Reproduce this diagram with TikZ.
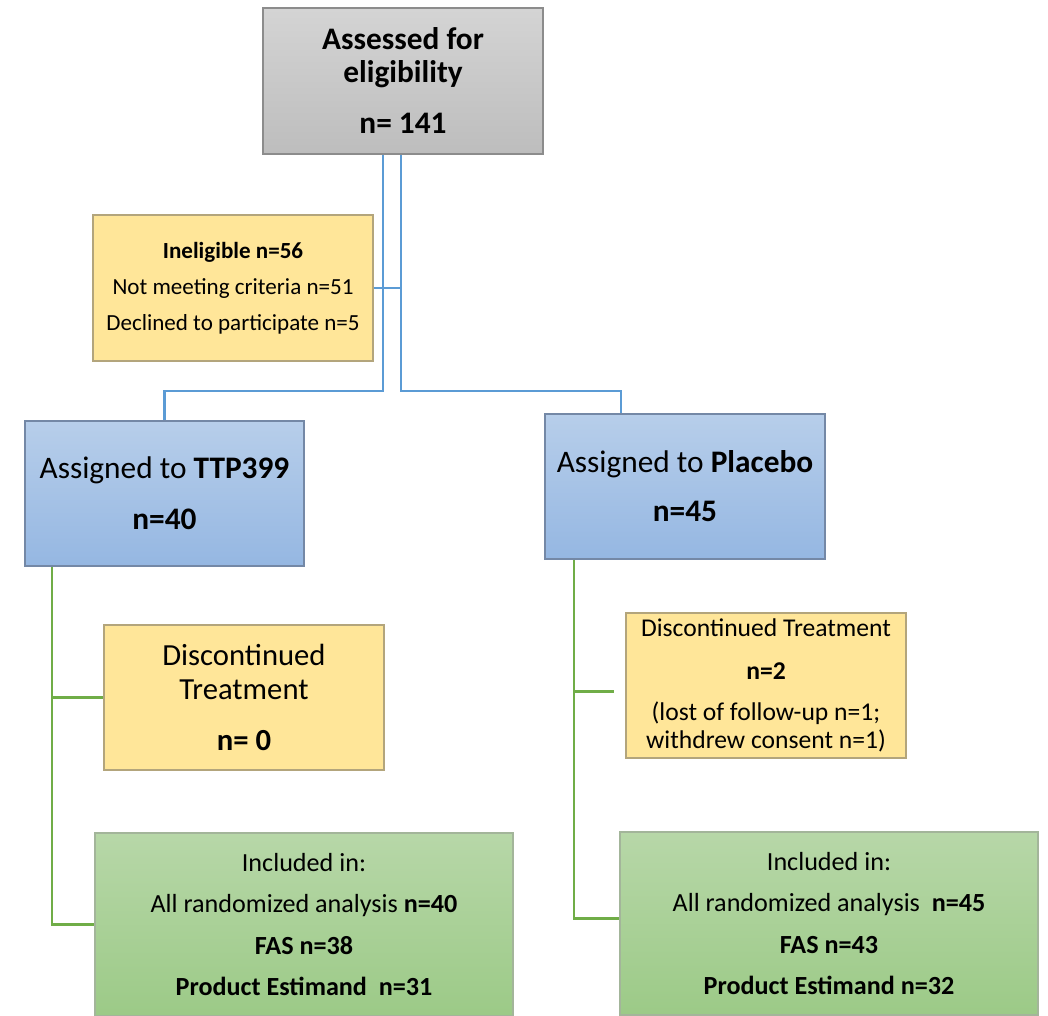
\documentclass[tikz,border=0pt]{standalone}
\usepackage{fontspec}
\setmainfont{Carlito}
\usetikzlibrary{calc}
\definecolor{grayT}{HTML}{D4D4D4}
\definecolor{grayB}{HTML}{BDBDBD}
\definecolor{grayE}{HTML}{8C8C8C}
\definecolor{yel}{HTML}{FFE699}
\definecolor{yelE}{HTML}{B3A57C}
\definecolor{bluT}{HTML}{B7CEEA}
\definecolor{bluB}{HTML}{95B7E2}
\definecolor{bluE}{HTML}{7488A6}
\definecolor{grnT}{HTML}{B7D7A8}
\definecolor{grnB}{HTML}{9CCA87}
\definecolor{grnE}{HTML}{A3B59A}
\definecolor{lnB}{HTML}{5B9BD5}
\definecolor{lnG}{HTML}{70AD47}
\begin{document}
\begin{tikzpicture}[x=0.75pt,y=-0.75pt,
  box/.style={draw, line width=0.8pt, inner sep=0pt, align=center,
    minimum width=210pt, minimum height=108.75pt},
  graybox/.style={box, draw=grayE, top color=grayT, bottom color=grayB},
  yelbox/.style={box, draw=yelE, fill=yel},
  blubox/.style={box, draw=bluE, top color=bluT, bottom color=bluB},
  grnbox/.style={box, draw=grnE, top color=grnT, bottom color=grnB,
    minimum width=313.5pt, minimum height=137.25pt},
  bline/.style={draw=lnB, line width=2pt},
  gline/.style={draw=lnG, line width=2pt}]
\useasboundingbox (0,0) rectangle (1048,1015);
\clip (0,0) rectangle (1048,1015);

% boxes
\node[graybox, minimum height=109.5pt,
  font={\fontsize{23.5}{24.75}\selectfont\bfseries}] (top) at (403,81)
  {Assessed for\\eligibility\\[13.5pt]n= 141};
\node[yelbox, minimum height=109.5pt,
  font={\fontsize{17.3}{27}\selectfont}] (inel) at (233,288)
  {\textbf{Ineligible n=56}\\Not meeting criteria n=51\\Declined to participate n=5};
\node[blubox, minimum width=209.25pt,
  font={\fontsize{23.5}{24.75}\selectfont}] (ttp) at (164.5,493.5)
  {Assigned to \textbf{TTP399}\\[13.5pt]\textbf{n=40}};
\node[blubox, font={\fontsize{23.5}{24.75}\selectfont}] (plc) at (685,486.5)
  {Assigned to \textbf{Placebo}\\[12pt]\textbf{n=45}};
\node[yelbox, font={\fontsize{23}{25.5}\selectfont}] (disc1) at (244,697.5)
  {Discontinued\\Treatment\\[12.75pt]\textbf{n= 0}};
\node[yelbox, font={\fontsize{19.2}{21}\selectfont}] (disc2) at (766,685.5)
  {Discontinued Treatment\\[11.25pt]\textbf{n=2}\\[9.75pt](lost of follow-up n=1;\\withdrew consent n=1)};
\node[grnbox, font={\fontsize{19.6}{31}\selectfont}] (inc1) at (304,924.5)
  {Included in:\\All randomized analysis \textbf{n=40}\\\textbf{FAS n=38}\\\textbf{Product Estimand~~n=31}};
\node[grnbox, font={\fontsize{19.6}{31}\selectfont}] (inc2) at (829,923.5)
  {Included in:\\All randomized analysis~~\textbf{n=45}\\\textbf{FAS n=43}\\\textbf{Product Estimand n=32}};

% junction coordinates
\coordinate (jL) at (383,391);
\coordinate (jR) at (401,391);
\coordinate (pR) at (621,391);
\coordinate (gL) at (52,0);
\coordinate (gR) at (574,0);

% blue connectors
\draw[bline] (jL |- top.south) -- (jL) -| (ttp.north);
\draw[bline] (jR |- top.south) -- (jR) -- (pR) -- (pR |- plc.north);
\draw[bline] (inel.east) -- (inel.east -| jR);

% green connectors
\draw[gline] (gL |- ttp.south) |- (inc1.west);
\draw[gline] (gL |- disc1.west) -- (disc1.west);
\draw[gline] (gR |- plc.south) |- ($(inc2.west)+(0,-5)$);
\draw[gline] (gR |- {$(disc2.west)+(0,6)$}) -- ($(disc2.west)+(-11,6)$);
\end{tikzpicture}
\end{document}
